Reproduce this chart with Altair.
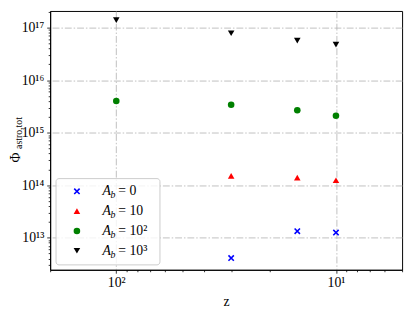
import altair as alt
import pandas as pd

# ---- data ----
series = ["A_b = 0", "A_b = 10", "A_b = 10^2", "A_b = 10^3"]
legend_values = ["0", "10", "10²", "10³"]
colors = ["#0000ff", "#ff0000", "#008000", "#000000"]
X_PATH = "M-1,-1L1,1M1,-1L-1,1"
shapes = [X_PATH, "triangle-up", "circle", "triangle-down"]

z_a0 = [30, 15, 10]
phi_a0 = [4.1e12, 1.33e13, 1.25e13]
z_a10 = [30, 15, 10]
phi_a10 = [1.5e14, 1.39e14, 1.24e14]
z_a100 = [100, 30, 15, 10]
phi_a100 = [4.0e15, 3.4e15, 2.67e15, 2.1e15]
z_a1000 = [100, 30, 15, 10]
phi_a1000 = [1.39e17, 7.8e16, 5.65e16, 4.75e16]

x_major = [10, 100]
x_labels = ["10¹", "10²"]
x_minor = [5, 6, 7, 8, 9, 20, 30, 40, 50, 60, 70, 80, 90, 200]
y_exps = [13, 14, 15, 16, 17]
y_labels = ["10¹³", "10¹⁴", "10¹⁵", "10¹⁶", "10¹⁷"]

x_domain = [5, 200]
y_domain = [2.45e12, 2.07e17]

FONT = "Liberation Serif"

rows = []
for s, zs, ps in zip(series, [z_a0, z_a10, z_a100, z_a1000],
                     [phi_a0, phi_a10, phi_a100, phi_a1000]):
    for z, p in zip(zs, ps):
        rows.append({"series": s, "z": z, "phi": p})
df = pd.DataFrame(rows)

y_major = [10 ** e for e in y_exps]
y_minor = [m * 10 ** e for e in range(12, 18) for m in range(2, 10)
           if y_domain[0] <= m * 10 ** e <= y_domain[1]]


def chain(vals, labs):
    expr = "''"
    for v, l in reversed(list(zip(vals, labs))):
        expr = f"datum.value == {int(v)} ? '{l}' : ({expr})"
    return expr


def major_test(vals):
    return " || ".join(f"datum.value == {int(v)}" for v in vals)


grid_dash = [7, 2, 1.5, 2]

x_axis = alt.Axis(
    values=x_major + x_minor,
    labelExpr=chain(x_major, x_labels),
    tickSize={"condition": {"test": major_test(x_major), "value": 3.5}, "value": 2},
    gridOpacity={"condition": {"test": major_test(x_major), "value": 1}, "value": 0},
    grid=True, gridDash=grid_dash, gridColor="#b0b0b0", gridWidth=0.8,
    title="z", titleFont=FONT, titleFontSize=14, titleFontWeight="normal",
    titleColor="black", titlePadding=5,
    labelFont=FONT, labelFontSize=14, labelColor="black", labelPadding=3,
    labelOverlap=False, labelFlush=False,
    tickColor="black", tickWidth=0.8, domainColor="black", domainWidth=1,
)
y_axis = alt.Axis(
    values=y_major + y_minor,
    labelExpr=chain(y_major, y_labels),
    tickSize={"condition": {"test": major_test(y_major), "value": 3.5}, "value": 2},
    gridOpacity={"condition": {"test": major_test(y_major), "value": 1}, "value": 0},
    grid=True, gridDash=grid_dash, gridColor="#b0b0b0", gridWidth=0.8,
    title=None,
    labelFont=FONT, labelFontSize=14, labelColor="black", labelPadding=3,
    labelOverlap=False, labelFlush=False, labelBaseline="middle",
    tickColor="black", tickWidth=0.8, domainColor="black", domainWidth=1,
)

xenc = alt.X("z:Q", scale=alt.Scale(type="log", domain=x_domain, reverse=True, nice=False), axis=x_axis)
yenc = alt.Y("phi:Q", scale=alt.Scale(type="log", domain=y_domain, nice=False), axis=y_axis)
color_scale = alt.Scale(domain=series, range=colors)
shape_scale = alt.Scale(domain=series, range=shapes)

base = alt.Chart(df)
filled_pts = base.transform_filter(f"datum.series != '{series[0]}'").mark_point(
    filled=True, size=45, opacity=1
).encode(
    x=xenc, y=yenc,
    color=alt.Color("series:N", scale=color_scale, legend=None),
    shape=alt.Shape("series:N", scale=shape_scale, legend=None),
)
cross_pts = base.transform_filter(f"datum.series == '{series[0]}'").mark_point(
    shape=X_PATH, filled=False, size=30, strokeWidth=1.6, opacity=1
).encode(
    x=xenc, y=yenc,
    color=alt.Color("series:N", scale=color_scale, legend=None),
)
main = alt.layer(filled_pts, cross_pts)

# ---- legend (custom, to allow subscripts) ----
leg_df = pd.DataFrame({"series": series, "val": legend_values, "idx": list(range(len(series)))})
leg = alt.Chart(leg_df).transform_calculate(ly="184 + datum.idx * 20.2")
ly = alt.Y("ly:Q", scale=None, axis=None)

box = alt.Chart(pd.DataFrame({"a": [0]})).mark_rect(
    fill="white", fillOpacity=0.8, stroke="#cccccc", strokeWidth=1, cornerRadius=3
).encode(x=alt.value(6), x2=alt.value(112), y=alt.value(171), y2=alt.value(259))

leg_filled = leg.transform_filter(f"datum.series != '{series[0]}'").mark_point(
    filled=True, size=45, opacity=1
).encode(
    x=alt.value(27.3), y=ly,
    color=alt.Color("series:N", scale=color_scale, legend=None),
    shape=alt.Shape("series:N", scale=shape_scale, legend=None),
)
leg_cross = leg.transform_filter(f"datum.series == '{series[0]}'").mark_point(
    shape=X_PATH, filled=False, size=30, strokeWidth=1.6, opacity=1
).encode(
    x=alt.value(27.3), y=ly,
    color=alt.Color("series:N", scale=color_scale, legend=None),
)
leg_A = leg.mark_text(font=FONT, fontSize=14, fontStyle="italic", align="left",
                      baseline="middle", color="black").encode(
    x=alt.value(53.5), y=ly, text=alt.value("A"))
leg_b = leg.mark_text(font=FONT, fontSize=10, fontStyle="italic", align="left",
                      baseline="middle", color="black", dy=4).encode(
    x=alt.value(61.5), y=ly, text=alt.value("b"))
leg_val = leg.transform_calculate(lab="'= ' + datum.val").mark_text(
    font=FONT, fontSize=14, align="left", baseline="middle", color="black").encode(
    x=alt.value(69.5), y=ly, text="lab:N")

# ---- y title with subscript ----
one = alt.Chart(pd.DataFrame({"a": [0]}))
ytitle_phi = one.mark_text(font=FONT, fontSize=14, angle=270, align="center",
                           baseline="middle", color="black").encode(
    x=alt.value(-34.5), y=alt.value(149.5), text=alt.value("Φ"))
ytitle_sub = one.mark_text(font=FONT, fontSize=10, angle=270, align="center",
                           baseline="middle", color="black").encode(
    x=alt.value(-32), y=alt.value(124.5), text=alt.value("astro,tot"))

chart = alt.layer(
    main, box, leg_filled, leg_cross, leg_A, leg_b, leg_val, ytitle_phi, ytitle_sub
).resolve_scale(y="independent").properties(
    width=359, height=264,
    autosize=alt.AutoSizeParams(type="none"),
    padding={"left": 43, "top": 0, "right": 5, "bottom": 38},
).configure_view(stroke="black", strokeWidth=1)

chart.save("out.html", embed_options={"renderer": "svg", "actions": False})
